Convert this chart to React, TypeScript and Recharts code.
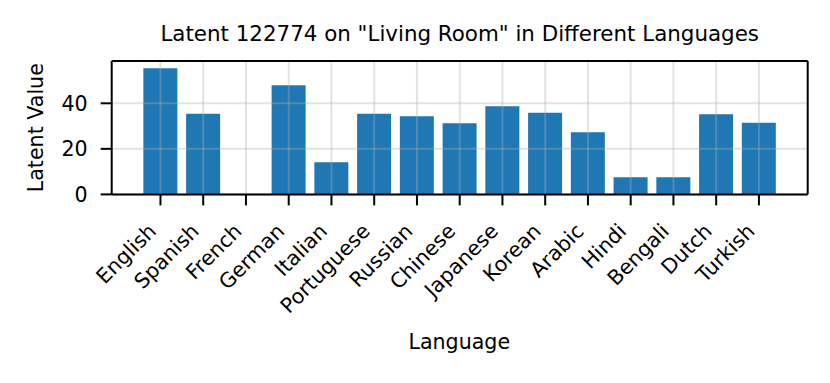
import React from 'react';
import { BarChart, Bar, XAxis, YAxis, ReferenceLine } from 'recharts';

const languages = ['English', 'Spanish', 'French', 'German', 'Italian', 'Portuguese', 'Russian', 'Chinese', 'Japanese', 'Korean', 'Arabic', 'Hindi', 'Bengali', 'Dutch', 'Turkish'];
const latentValues = [55.4, 35.4, 0, 47.9, 14.1, 35.4, 34.3, 31.2, 38.7, 35.9, 27.3, 7.5, 7.5, 35.2, 31.5];
const yTicks = [0, 20, 40];
const yMax = 58.57;

const titleText = 'Latent 122774 on "Living Room" in Different Languages';
const xLabelText = 'Language';
const yLabelText = 'Latent Value';

const data = languages.map((name, i) => ({ name, value: latentValues[i] }));

const FONT = 'DejaVu Sans';
const FS = 20.6;
const GRID = { stroke: '#b0b0b0', strokeOpacity: 0.35, strokeWidth: 2 };

const XTick = (props: any) => {
  const { x, y, payload } = props;
  const ex = x - 3;
  const ey = y + 27;
  return (
    <text
      x={ex}
      y={ey}
      transform={`rotate(-45, ${ex}, ${ey})`}
      textAnchor="end"
      fontFamily={FONT}
      fontSize={FS}
      fill="#000"
    >
      {payload.value}
    </text>
  );
};

export default function App() {
  return (
    <div style={{ position: 'absolute', left: 0, top: 0, width: 830, height: 383, background: '#fff' }}>
      <BarChart
        width={830}
        height={383}
        data={data}
        margin={{ top: 60, right: 21.3, left: 51.7, bottom: 38.6 }}
        barCategoryGap="10%"
      >
        <Bar dataKey="value" fill="#1f77b4" isAnimationActive={false} />
        {languages.map((l) => (
          <ReferenceLine key={'v' + l} x={l} {...GRID} />
        ))}
        {yTicks.map((t) => (
          <ReferenceLine key={'h' + t} y={t} {...GRID} />
        ))}
        <XAxis
          dataKey="name"
          type="category"
          height={150}
          padding={{ left: 27.4, right: 27.4 }}
          interval={0}
          tickSize={11}
          tickMargin={0}
          tick={<XTick />}
          tickLine={{ stroke: '#000', strokeWidth: 2 }}
          axisLine={{ stroke: '#000', strokeWidth: 2 }}
        />
        <XAxis
          xAxisId="top"
          dataKey="name"
          orientation="top"
          height={1}
          tick={false}
          tickLine={false}
          axisLine={{ stroke: '#000', strokeWidth: 2 }}
        />
        <YAxis
          type="number"
          domain={[0, yMax]}
          ticks={yTicks}
          width={60}
          allowDataOverflow
          tickSize={11}
          tickMargin={13}
          tick={{ fontFamily: FONT, fontSize: FS, fill: '#000' }}
          tickLine={{ stroke: '#000', strokeWidth: 2 }}
          axisLine={{ stroke: '#000', strokeWidth: 2 }}
        />
        <YAxis
          yAxisId="right"
          orientation="right"
          type="number"
          domain={[0, 1]}
          width={1}
          tick={false}
          tickLine={false}
          axisLine={{ stroke: '#000', strokeWidth: 2 }}
        />
      </BarChart>
      <svg width={830} height={383} style={{ position: 'absolute', left: 0, top: 0, pointerEvents: 'none' }}>
        <text x={459.7} y={41} textAnchor="middle" fontFamily={FONT} fontSize={21.4} fill="#000">
          {titleText}
        </text>
        <text x={459.3} y={349.3} textAnchor="middle" fontFamily={FONT} fontSize={FS} fill="#000">
          {xLabelText}
        </text>
        <text
          transform="translate(43.3,127.7) rotate(-90)"
          textAnchor="middle"
          fontFamily={FONT}
          fontSize={FS}
          fill="#000"
        >
          {yLabelText}
        </text>
      </svg>
    </div>
  );
}
